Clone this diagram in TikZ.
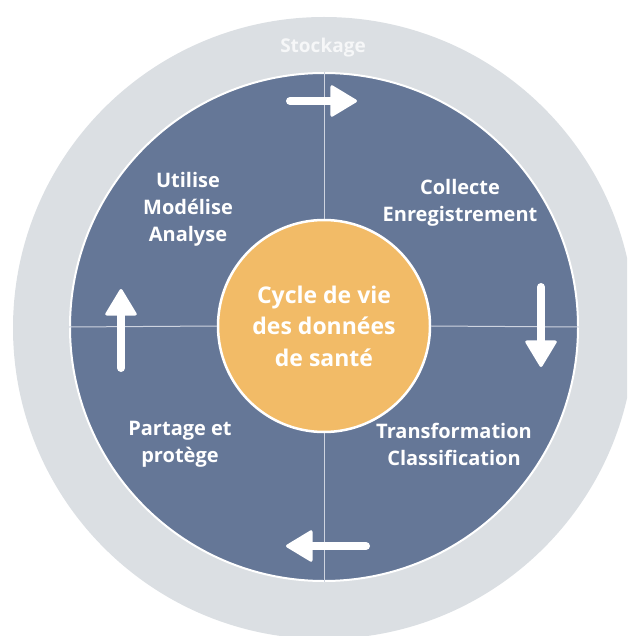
\documentclass[tikz,border=0pt]{standalone}
\usepackage{fontspec}
\setmainfont{Open Sans}
\usetikzlibrary{arrows.meta}
\definecolor{slate}{RGB}{101,119,151}
\definecolor{mist}{RGB}{219,223,227}
\definecolor{amber}{RGB}{242,187,103}
\definecolor{seam}{RGB}{206,212,224}
\definecolor{pale}{RGB}{246,247,248}

\begin{document}
\begin{tikzpicture}[x=1pt,y=-1pt,
  lbl/.style={text=white,font=\bfseries\fontsize{20}{27}\selectfont,align=center},
  flow/.style={white,line width=8pt,line cap=round,
    -{Triangle[width=33pt,length=28pt,line width=3pt,round]}},
  seamline/.style={seam,line width=1pt}]

\useasboundingbox (0,0) rectangle (627,636);
\clip (0,0) rectangle (627,636);

%% outer ring, storage
\fill[mist] (324,328) circle [radius=311pt];
\node (store) at (323,48) [text=pale,font=\bfseries\fontsize{19}{22}\selectfont] {Stockage};

%% the four quarters
\node (ring) at (324,327) [circle,fill=slate,draw=white,line width=2pt,minimum size=508pt] {};

\node (hub) at (324,326) [circle,fill=amber,draw=white,line width=2.5pt,minimum size=212pt,
  text=white,font=\bfseries\fontsize{23}{31.5}\selectfont,align=center]
  {Cycle de vie\\des données\\de santé};

\draw[seamline] (ring.north) -- (hub.north);
\draw[seamline] (ring.south) -- (hub.south);
\draw[seamline] (ring.west) -- (hub.west);
\draw[seamline] (ring.east) -- (hub.east);

\node (use) at (188,209) [lbl] {Utilise\\Modélise\\Analyse};
\node (coll) at (460,203) [lbl] {Collecte\\Enregistrement};
\node (trans) at (454,444) [lbl] {Transformation\\Classification};
\node (share) at (180,444) [lbl] {Partage et\\protège};

%% arrows round the cycle
\coordinate (n1) at (290,101);
\coordinate (n2) at (357,101);
\coordinate (e1) at (541,287);
\coordinate (e2) at (541,367);
\coordinate (s1) at (366,546);
\coordinate (s2) at (286,546);
\coordinate (w1) at (121,368);
\coordinate (w2) at (121,289);

\draw[flow] (n1) -- (n2);
\draw[flow] (e1) -- (e2);
\draw[flow] (s1) -- (s2);
\draw[flow] (w1) -- (w2);

\end{tikzpicture}
\end{document}
